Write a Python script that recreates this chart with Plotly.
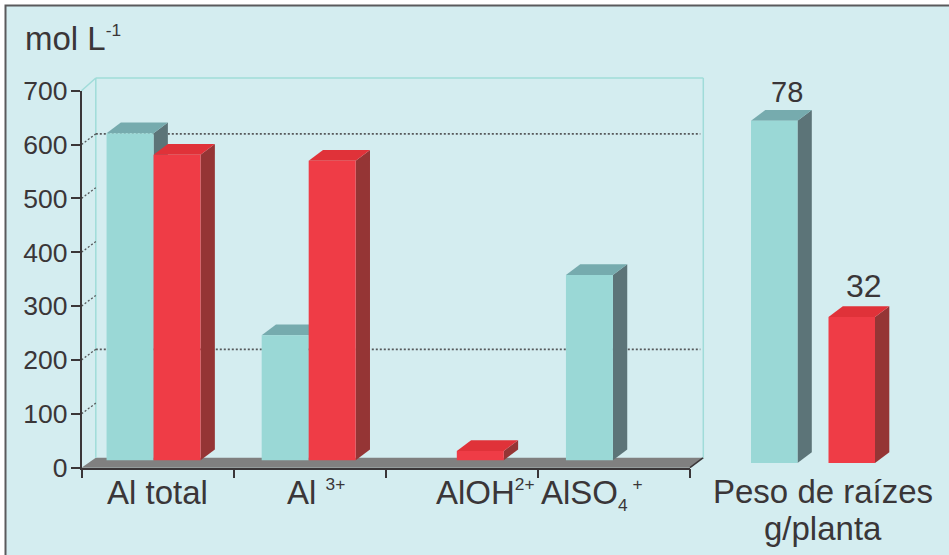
import plotly.graph_objects as go

# Aluminium species in solution (mol L-1)
species = ["Al total", "Al <sup><span style=\"font-size:75%\">3+</span></sup>",
           "AlOH<sup><span style=\"font-size:75%\">2+</span></sup>",
           "AlSO<sub><span style=\"font-size:75%\">4</span></sub><sup><span style=\"font-size:75%\"> +</span></sup>"]
teal_values = [621, 246, None, 358]
red_values = [581, 570, 31, None]
y_ticks = [0, 100, 200, 300, 400, 500, 600, 700]

# Root weight (g/plant)
root_weight = [78, 32]
root_caption = ["Peso de raízes", "g/planta"]

W, H = 949, 555
TEAL = dict(front="#9ad8d6", top="#76abae", side="#5c7478")
RED = dict(front="#ef3c46", top="#e03239", side="#953535")
INK = "#3a3638"
WALL = "#a0dcd9"

# Pixel frame of the two subplots
AX_L, AX_R, AX_T, AX_B = 81.5, 690.0, 90.7, 467.7
RX_L, RX_R, RT, RB = 735.5, 890.5, 90.0, 463.0
DX, DY = 14.3, 10.7  # pseudo-3D depth of the boxes

sx = (AX_R - AX_L) / 4           # px per category
sy = (AX_B - AX_T) / 700         # px per value
BAR_W = 47 / sx
BAR_FLOOR = 14                   # boxes stand a little in front of the axis line
GROUP_NUDGE = [-4, -1, -5, -1]   # px shift per group

r_sx = (RX_R - RX_L) / 2
r_sy = (317 - 120.7) / (root_weight[0] - root_weight[1])
R_BASE = root_weight[1] - (RB - 317) / r_sy
R_TOP = R_BASE + (RB - RT) / r_sy
R_BAR_W = 46.5 / r_sx


def box_faces(x0, x1, y0, y1, ddx, ddy, colors, xref, yref):
    """Top and side faces of a box whose front runs x0..x1, y0..y1 in axis units."""
    top = f"M{x0},{y1} L{x1},{y1} L{x1 + ddx},{y1 + ddy} L{x0 + ddx},{y1 + ddy} Z"
    side = f"M{x1},{y0} L{x1 + ddx},{y0 + ddy} L{x1 + ddx},{y1 + ddy} L{x1},{y1} Z"
    return [
        dict(type="path", path=side, xref=xref, yref=yref, layer="below",
             fillcolor=colors["side"], line_width=0),
        dict(type="path", path=top, xref=xref, yref=yref, layer="below",
             fillcolor=colors["top"], line_width=0),
    ]


def pfx(px):
    return px / W


def pfy(py):
    return 1 - py / H


def paper_line(x0, y0, x1, y1, color, width, dash="solid"):
    return dict(type="line", xref="paper", yref="paper", layer="below",
                x0=pfx(x0), y0=pfy(y0), x1=pfx(x1), y1=pfy(y1),
                line=dict(color=color, width=width, dash=dash))


shapes = []

# Frame of the panel
shapes.append(dict(type="rect", xref="paper", yref="paper", layer="below",
                   x0=pfx(5.5), x1=1.01, y0=-0.01, y1=pfy(5.5),
                   fillcolor="#d4edf0", line=dict(color="#5a5a5c", width=2)))

# Floor of the box
wall_l, wall_r, wall_t, wall_b = AX_L + DX, AX_R + DX - 1, 78.0, AX_B - 10
shapes.append(dict(type="path", xref="paper", yref="paper", layer="below",
                   path=f"M{pfx(AX_L)},{pfy(AX_B)} L{pfx(AX_R)},{pfy(AX_B)} "
                        f"L{pfx(wall_r)},{pfy(wall_b)} L{pfx(wall_l)},{pfy(wall_b)} Z",
                   fillcolor="#808080", line_width=0))
shapes.append(paper_line(AX_R, AX_B, wall_r, wall_b, INK, 1.5))

# Walls
shapes.append(paper_line(wall_l, wall_t, wall_r, wall_t, WALL, 1.5))
shapes.append(paper_line(wall_l, wall_t, wall_l, wall_b, WALL, 1.5))
shapes.append(paper_line(wall_r, wall_t, wall_r, wall_b, WALL, 1.5))
shapes.append(paper_line(AX_L, AX_T, wall_l, wall_t, WALL, 1.5))

# Dotted guides: obliques on the side wall, horizontals at 200 and 600
for v in y_ticks[1:-1]:
    py = AX_B - v * sy
    shapes.append(paper_line(AX_L, py, wall_l, py - DY, "#55585a", 1.3, "2px,2px"))
for v in (200, 600):
    py = AX_B - v * sy - DY
    shapes.append(paper_line(wall_l, py, wall_r - 3, py, "#55585a", 1.7, "2px,2px"))

# Box faces, back to front so each red top covers the teal side beside it
ddx, ddy = DX / sx, DY / sy
fronts = {"teal": [], "red": []}
for i in range(len(species)):
    nudge = GROUP_NUDGE[i] / sx
    for name, vals, colors, off in (("teal", teal_values, TEAL, -BAR_W + nudge),
                                    ("red", red_values, RED, nudge)):
        fronts[name].append(off)
        if vals[i] is not None:
            shapes += box_faces(i + off, i + off + BAR_W, BAR_FLOOR, vals[i],
                                ddx, ddy, colors, "x", "y")

r_ddx, r_ddy = DX / r_sx, DY / r_sy
for i, (v, colors) in enumerate(zip(root_weight, (TEAL, RED))):
    shapes += box_faces(i - R_BAR_W / 2, i + R_BAR_W / 2, R_BASE, v,
                        r_ddx, r_ddy, colors, "x2", "y2")

fig = go.Figure()
xs = list(range(len(species)))
fig.add_trace(go.Bar(x=xs, y=[None if v is None else v - BAR_FLOOR for v in teal_values],
                     base=BAR_FLOOR, width=BAR_W, offset=fronts["teal"],
                     marker=dict(color=TEAL["front"], line_width=0),
                     hoverinfo="skip", showlegend=False))
fig.add_trace(go.Bar(x=xs, y=[None if v is None else v - BAR_FLOOR for v in red_values],
                     base=BAR_FLOOR, width=BAR_W, offset=fronts["red"],
                     marker=dict(color=RED["front"], line_width=0),
                     hoverinfo="skip", showlegend=False))
fig.add_trace(go.Bar(x=[0, 1], y=[v - R_BASE for v in root_weight], base=R_BASE,
                     width=R_BAR_W, xaxis="x2", yaxis="y2",
                     marker=dict(color=[TEAL["front"], RED["front"]], line_width=0),
                     hoverinfo="skip", showlegend=False))

TXT = "Liberation Sans"
annotations = [
    dict(text="mol L<sup><span style=\"font-size:75%\">-1</span></sup>", x=-0.5, y=700, xref="x", yref="y",
         xanchor="left", yanchor="bottom", xshift=-58.5, yshift=32, showarrow=False,
         font=dict(family=TXT, size=33, color=INK)),
]
label_shift = [0, 6, 24, -22]
for i, label in enumerate(species):
    annotations.append(dict(text=label, x=i, y=0, xref="x", yref="y", yanchor="top",
                            xshift=label_shift[i], yshift=-4, showarrow=False,
                            font=dict(family=TXT, size=33, color=INK)))
for i, (v, size, nudge) in enumerate(zip(root_weight, (29, 32), (13, 12.5))):
    annotations.append(dict(text=str(v), x=i, y=v, xref="x2", yref="y2", xanchor="center",
                            yanchor="bottom", xshift=nudge, yshift=11, showarrow=False,
                            font=dict(family=TXT, size=size, color=INK)))
for line, drop in zip(root_caption, (8, 45)):
    annotations.append(dict(text=line, x=0.5, y=R_BASE, xref="x2", yref="y2",
                            xanchor="center", yanchor="top", xshift=9.5, yshift=-drop,
                            showarrow=False, font=dict(family=TXT, size=33, color=INK)))

fig.update_layout(
    width=W, height=H,
    margin=dict(l=0, r=0, t=0, b=0, autoexpand=False),
    paper_bgcolor="#ffffff",
    plot_bgcolor="rgba(0,0,0,0)",
    barmode="overlay",
    shapes=shapes,
    annotations=annotations,
    xaxis=dict(domain=[pfx(AX_L), pfx(AX_R)], range=[-0.5, 3.5], automargin=False,
               tickvals=[-0.5, 0.5, 1.5, 2.5, 3.5], showticklabels=False,
               ticks="outside", ticklen=9, tickwidth=1.5, tickcolor=INK,
               showline=True, linecolor=INK, linewidth=1.5, showgrid=False, zeroline=False,
               anchor="y"),
    yaxis=dict(domain=[pfy(AX_B), pfy(AX_T)], range=[0, 700], automargin=False,
               tickvals=y_ticks, ticks="outside", ticklen=9, tickwidth=1.5, tickcolor=INK,
               tickfont=dict(family=TXT, size=26.5, color=INK), ticklabelstandoff=-2,
               showline=True, linecolor=INK, linewidth=1.5, showgrid=False, zeroline=False,
               anchor="x"),
    xaxis2=dict(domain=[pfx(RX_L), pfx(RX_R)], range=[-0.5, 1.5], visible=False, anchor="y2",
                automargin=False),
    yaxis2=dict(domain=[pfy(RB), pfy(RT)], range=[R_BASE, R_TOP], visible=False, anchor="x2",
                automargin=False),
)

fig.write_html("out.html")
